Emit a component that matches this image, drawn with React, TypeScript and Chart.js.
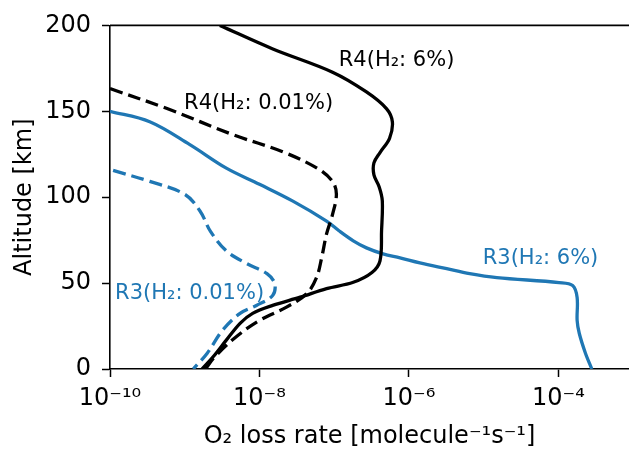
import React, { useEffect, useRef } from "react";
import { Chart, registerables } from "chart.js";

Chart.register(...registerables);

// ---- Data (altitude in km, O2 loss rate in molecule^-1 s^-1) ----
const r4HighAlt = [200, 186.3, 172.8, 161.3, 151.6, 143.9, 134.3, 126, 120, 113, 106, 98, 80.3, 63, 56.2, 50.5, 46.8, 41.8, 37, 32.4, 26.6, 16.8, 7.1, 0];
const r4HighRate = [2.95e-9, 1.51e-8, 9.5e-8, 2.7e-7, 5.0e-7, 6.0e-7, 5.5e-7, 4.1e-7, 3.4e-7, 3.4e-7, 4.0e-7, 4.4e-7, 4.3e-7, 4.1e-7, 3.2e-7, 1.8e-7, 7.9e-8, 3.5e-8, 1.5e-8, 8.1e-9, 5.5e-9, 3.6e-9, 2.4e-9, 1.7e-9];

const r4LowAlt = [163.2, 151.6, 136.4, 126.6, 116.9, 109.2, 101.7, 90, 78.6, 64.8, 53.2, 43.9, 36, 28.3, 18.5, 6.9, 0];
const r4LowRate = [1.0e-10, 5.8e-10, 4.4e-9, 2.0e-8, 5.9e-8, 9.5e-8, 1.07e-7, 9.5e-8, 7.9e-8, 6.8e-8, 5.8e-8, 4.3e-8, 2.3e-8, 1.0e-8, 4.8e-9, 2.5e-9, 1.9e-9];

const r3HighAlt = [150, 143.9, 130.6, 116.9, 107.5, 97.7, 86.1, 80.3, 74.6, 70.5, 67, 64.7, 61.8, 58.4, 55.5, 53.2, 50.3, 48.6, 41.6, 28.3, 20.8, 9.2, 0];
const r3HighRate = [1.0e-10, 3.4e-10, 1.17e-9, 3.6e-9, 1.0e-8, 2.8e-8, 7.9e-8, 1.17e-7, 1.8e-7, 2.7e-7, 4.5e-7, 7.6e-7, 1.4e-6, 3.2e-6, 6.5e-6, 1.5e-5, 1.02e-4, 1.55e-4, 1.78e-4, 1.78e-4, 1.9e-4, 2.3e-4, 2.8e-4];

const r3LowAlt = [115.6, 109.2, 101.7, 92, 80.3, 68.8, 61.3, 55.5, 49.7, 42.8, 37, 32.4, 22.5, 9.2, 0];
const r3LowRate = [1.1e-10, 3.4e-10, 1.0e-9, 1.6e-9, 2.2e-9, 3.6e-9, 6.8e-9, 1.26e-8, 1.6e-8, 1.5e-8, 9.1e-9, 5.5e-9, 3.2e-9, 2.0e-9, 1.3e-9];

const xTickValues = [1e-10, 1e-8, 1e-6, 1e-4];
const xTickLabels = ["10⁻¹⁰", "10⁻⁸", "10⁻⁶", "10⁻⁴"];
const yTickValues = [0, 50, 100, 150, 200];

const annotationTexts = ["R4(H₂: 6%)", "R4(H₂: 0.01%)", "R3(H₂: 6%)", "R3(H₂: 0.01%)"];
const annotationRate = [1.15e-7, 9.8e-10, 9.7e-6, 1.17e-10];
const annotationAlt = [176.1, 151.3, 61.1, 40.9];

const BLUE = "#1f77b4";
const BLACK = "#000000";
const annotationColors = [BLACK, BLACK, BLUE, BLUE];

const FONT = "'DejaVu Sans', sans-serif";

function toPoints(rates: number[], alts: number[]) {
  return rates.map((r, i) => ({ x: r, y: alts[i] }));
}

const annotationPlugin = {
  id: "textAnnotations",
  afterDatasetsDraw(chart: any) {
    const { ctx, scales } = chart;
    ctx.save();
    ctx.font = `21px ${FONT}`;
    ctx.textAlign = "left";
    ctx.textBaseline = "alphabetic";
    annotationTexts.forEach((t, i) => {
      ctx.fillStyle = annotationColors[i];
      ctx.fillText(t, scales.x.getPixelForValue(annotationRate[i]), scales.y.getPixelForValue(annotationAlt[i]));
    });
    ctx.restore();
  },
};

const topSpinePlugin = {
  id: "topSpine",
  afterDraw(chart: any) {
    const { ctx, chartArea } = chart;
    ctx.save();
    ctx.strokeStyle = "#000";
    ctx.lineWidth = 1.6;
    ctx.beginPath();
    ctx.moveTo(chartArea.left, chartArea.top);
    ctx.lineTo(chartArea.right, chartArea.top);
    ctx.stroke();
    ctx.restore();
  },
};

export default function App() {
  const ref = useRef<HTMLCanvasElement>(null);

  useEffect(() => {
    const canvas = ref.current;
    if (!canvas) return;
    const lineBase = { showLine: true, pointRadius: 0, pointHoverRadius: 0, borderWidth: 3.3, tension: 0.35, fill: false };
    const chart = new Chart(canvas, {
      type: "scatter",
      data: {
        datasets: [
          { ...lineBase, label: "R4 6%", data: toPoints(r4HighRate, r4HighAlt), borderColor: BLACK, backgroundColor: BLACK },
          { ...lineBase, label: "R4 0.01%", data: toPoints(r4LowRate, r4LowAlt), borderColor: BLACK, backgroundColor: BLACK, borderDash: [13, 6] },
          { ...lineBase, label: "R3 6%", data: toPoints(r3HighRate, r3HighAlt), borderColor: BLUE, backgroundColor: BLUE },
          { ...lineBase, label: "R3 0.01%", data: toPoints(r3LowRate, r3LowAlt), borderColor: BLUE, backgroundColor: BLUE, borderDash: [13, 6] },
        ],
      },
      options: {
        responsive: false,
        animation: false,
        devicePixelRatio: 1,
        layout: { padding: { top: 23, right: 0, left: 0, bottom: 0 } },
        plugins: { legend: { display: false }, tooltip: { enabled: false } },
        scales: {
          x: {
            type: "logarithmic",
            min: 1e-10,
            max: 8.8e-4,
            afterBuildTicks: (scale: any) => {
              scale.ticks = xTickValues.map((v) => ({ value: v }));
            },
            afterFit: (scale: any) => {
              scale.height = 81;
            },
            ticks: {
              autoSkip: false,
              maxRotation: 0,
              padding: 7,
              color: "#000",
              font: { family: FONT, size: 24 },
              callback: (value: any) => {
                const idx = xTickValues.findIndex((v) => Math.abs(Math.log10(v) - Math.log10(Number(value))) < 1e-6);
                return idx >= 0 ? xTickLabels[idx] : "";
              },
            },
            grid: { display: true, drawOnChartArea: false, drawTicks: true, tickLength: 8, tickWidth: 1.5, tickColor: "#000" },
            border: { display: true, color: "#000", width: 1.6 },
            title: {
              display: true,
              text: "O₂ loss rate [molecule⁻¹s⁻¹]",
              color: "#000",
              font: { family: FONT, size: 24, lineHeight: 1 },
              padding: { top: 0, bottom: 1.3 },
            },
          },
          y: {
            type: "linear",
            min: 0,
            max: 200,
            afterBuildTicks: (scale: any) => {
              scale.ticks = yTickValues.map((v) => ({ value: v }));
            },
            afterFit: (scale: any) => {
              scale.width = 110;
            },
            ticks: {
              padding: 11,
              color: "#000",
              font: { family: FONT, size: 24 },
            },
            grid: { display: true, drawOnChartArea: false, drawTicks: true, tickLength: 8, tickWidth: 1.5, tickColor: "#000" },
            border: { display: true, color: "#000", width: 1.6 },
            title: {
              display: true,
              text: "Altitude [km]",
              color: "#000",
              font: { family: FONT, size: 24, lineHeight: 1 },
              padding: { top: 12.7, bottom: 0 },
            },
          },
        },
      },
      plugins: [annotationPlugin, topSpinePlugin],
    });
    return () => chart.destroy();
  }, []);

  return (
    <div style={{ position: "fixed", left: 0, top: 0, width: 629, height: 450, background: "#fff" }}>
      <canvas ref={ref} width={629} height={450} style={{ display: "block" }} />
    </div>
  );
}
